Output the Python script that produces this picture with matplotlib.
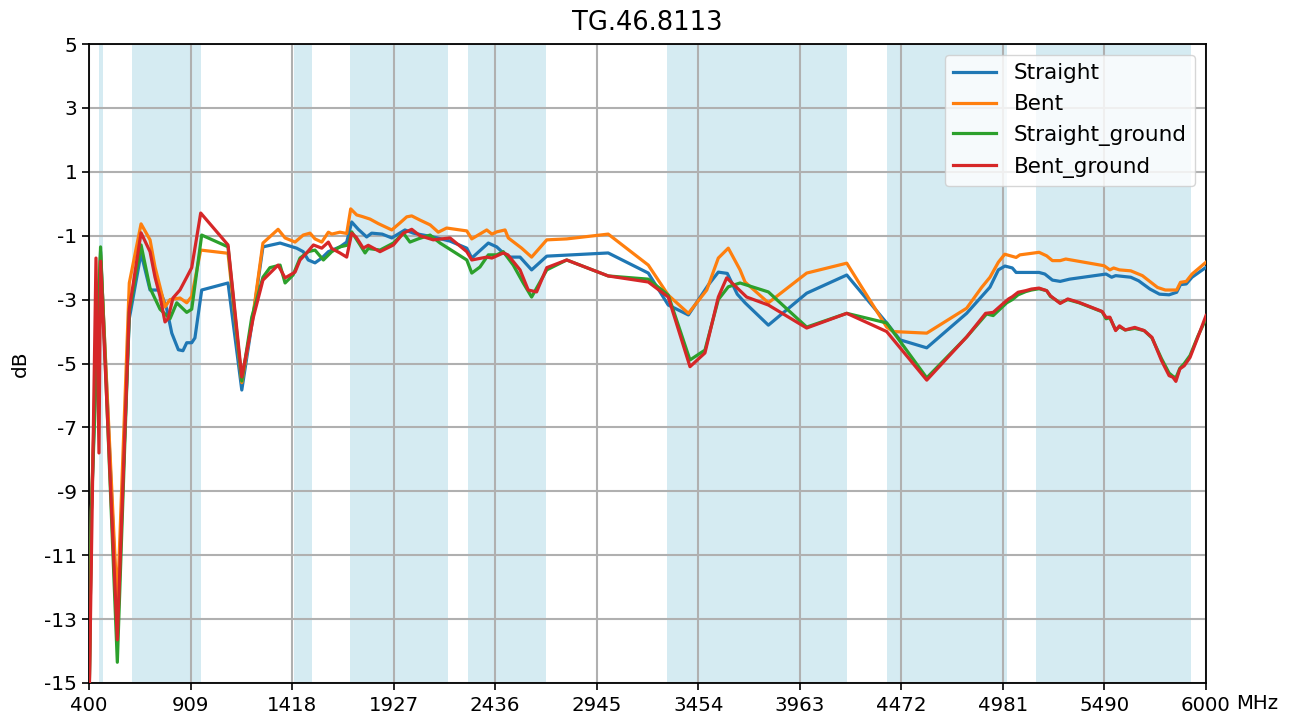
import numpy as np
import matplotlib
matplotlib.use("Agg")
import matplotlib.pyplot as plt

title = "TG.46.8113"
series_names = ["Straight", "Bent", "Straight_ground", "Bent_ground"]

# Straight
f_s = [400, 412, 435, 450, 458, 542, 602, 661, 706, 756, 790, 815, 848, 871, 890, 915, 931, 965,
       1097, 1166, 1222, 1272, 1358, 1441, 1474, 1499, 1533, 1567, 1600, 1658, 1692, 1717, 1750,
       1792, 1817, 1870, 1918, 1984, 2026, 2126, 2210, 2294, 2319, 2402, 2444, 2470, 2511, 2561,
       2619, 2695, 3003, 3204, 3304, 3405, 3505, 3555, 3600, 3650, 3689, 3806, 3998, 4199, 4399,
       4466, 4600, 4800, 4917, 4959, 4992, 5029, 5048, 5163, 5192, 5230, 5269, 5316, 5499, 5527,
       5547, 5623, 5662, 5719, 5767, 5815, 5853, 5872, 5901, 5930, 6000]
d_s = [-16, -9.6, -5.0, -3.0, -1.5, -13.1, -3.6, -1.55, -2.7, -2.7, -3.3, -4.05, -4.57, -4.6, -4.35, -4.35, -4.2, -2.7,
       -2.48, -5.83, -3.55, -1.35, -1.23, -1.39, -1.5, -1.76, -1.85, -1.7, -1.5, -1.35, -1.2, -0.57, -0.8,
       -1.04, -0.92, -0.95, -1.07, -0.82, -0.92, -1.04, -1.17, -1.39, -1.70, -1.23, -1.35, -1.5, -1.67, -1.67,
       -2.07, -1.64, -1.54, -2.17, -3.17, -3.48, -2.54, -2.14, -2.18, -2.83, -3.1, -3.8, -2.8, -2.23, -3.73,
       -4.26, -4.51, -3.43, -2.61, -2.07, -1.95, -2.01, -2.15, -2.15, -2.2, -2.39, -2.43, -2.36, -2.2, -2.3,
       -2.25, -2.3, -2.41, -2.67, -2.83, -2.85, -2.77, -2.53, -2.51, -2.3, -1.99]

# Bent
f_b = [400, 412, 435, 450, 458, 542, 602, 661, 706, 731, 756, 781, 806, 856, 890, 915, 960,
       1097, 1166, 1222, 1272, 1348, 1383, 1433, 1474, 1508, 1533, 1567, 1600, 1617, 1658, 1692,
       1712, 1742, 1770, 1809, 1850, 1918, 1959, 1993, 2018, 2059, 2110, 2151, 2193, 2294, 2319,
       2394, 2420, 2444, 2486, 2502, 2569, 2619, 2695, 2795, 3003, 3204, 3304, 3405, 3497, 3555,
       3605, 3664, 3689, 3806, 3998, 4199, 4399, 4432, 4600, 4800, 4875, 4917, 4959, 4991, 5048,
       5067, 5163, 5201, 5230, 5269, 5297, 5489, 5518, 5537, 5566, 5623, 5681, 5757, 5796, 5853,
       5872, 5901, 5930, 6000]
d_b = [-16, -9.6, -4.5, -2.8, -1.6, -12.6, -2.48, -0.63, -1.13, -1.98, -2.6, -3.23, -3.0, -2.95, -3.1, -2.9, -1.45,
       -1.55, -5.6, -3.5, -1.23, -0.8, -1.07, -1.2, -0.98, -0.92, -1.1, -1.2, -0.89, -0.95, -0.89, -0.93,
       -0.16, -0.35, -0.4, -0.48, -0.62, -0.82, -0.6, -0.41, -0.38, -0.51, -0.66, -0.89, -0.76, -0.85, -1.1,
       -0.82, -0.95, -0.88, -0.82, -1.07, -1.39, -1.67, -1.13, -1.1, -0.95, -1.92, -2.86, -3.43, -2.7, -1.7,
       -1.39, -2.07, -2.45, -3.1, -2.17, -1.86, -3.86, -4.0, -4.05, -3.27, -2.62, -2.3, -1.83, -1.58, -1.68,
       -1.6, -1.52, -1.63, -1.78, -1.78, -1.73, -1.94, -2.07, -2.01, -2.07, -2.1, -2.25, -2.62, -2.7, -2.7,
       -2.46, -2.43, -2.2, -1.83]

# Straight_ground
f_g = [400, 412, 458, 542, 602, 661, 706, 756, 806, 840, 890, 915, 965, 1097, 1166, 1216, 1272,
       1307, 1358, 1383, 1423, 1458, 1499, 1533, 1575, 1617, 1658, 1700, 1717, 1759, 1784, 1800,
       1859, 1926, 1976, 2009, 2050, 2110, 2160, 2294, 2319, 2360, 2402, 2444, 2477, 2527, 2577,
       2619, 2695, 2795, 3003, 3204, 3304, 3413, 3488, 3555, 3605, 3664, 3806, 3998, 4199, 4399,
       4600, 4800, 4900, 4933, 5001, 5029, 5058, 5096, 5125, 5163, 5201, 5220, 5269, 5307, 5364,
       5479, 5499, 5518, 5547, 5566, 5595, 5643, 5690, 5729, 5777, 5815, 5834, 5849, 5869, 5891,
       5920, 5959, 6000]
d_g = [-16, -9.6, -1.35, -14.35, -3.4, -1.29, -2.64, -3.3, -3.6, -3.1, -3.4, -3.3, -0.98, -1.35, -5.55, -3.55, -2.3,
       -2.0, -1.92, -2.48, -2.23, -1.7, -1.5, -1.45, -1.76, -1.5, -1.35, -1.29, -0.88, -1.29, -1.54, -1.4,
       -1.45, -1.23, -0.92, -1.2, -1.1, -0.98, -1.23, -1.76, -2.17, -1.98, -1.6, -1.6, -1.5, -1.92, -2.48,
       -2.92, -2.07, -1.76, -2.26, -2.36, -2.86, -4.89, -4.58, -3.0, -2.6, -2.48, -2.76, -3.86, -3.43, -3.73,
       -5.45, -4.17, -3.45, -3.5, -3.1, -3.0, -2.85, -2.75, -2.7, -2.66, -2.72, -2.9, -3.1, -3.0, -3.1,
       -3.38, -3.6, -3.57, -3.95, -3.85, -3.95, -3.9, -3.97, -4.2, -4.85, -5.3, -5.4, -5.45, -5.15, -5.0,
       -4.75, -4.15, -3.6]

# Bent_ground
f_r = [400, 435, 450, 458, 542, 602, 661, 706, 731, 756, 781, 796, 821, 856, 890, 915, 960, 1097,
       1166, 1224, 1272, 1348, 1383, 1433, 1458, 1491, 1525, 1567, 1600, 1617, 1658, 1692, 1717,
       1740, 1775, 1800, 1859, 1926, 1976, 2018, 2059, 2126, 2210, 2294, 2319, 2394, 2420, 2477,
       2500, 2561, 2602, 2644, 2695, 2795, 3003, 3204, 3304, 3413, 3488, 3555, 3597, 3697, 3806,
       3998, 4199, 4399, 4600, 4800, 4895, 4933, 4971, 5010, 5029, 5058, 5096, 5125, 5163, 5201,
       5220, 5269, 5307, 5364, 5479, 5499, 5518, 5547, 5566, 5595, 5643, 5690, 5729, 5777, 5815,
       5834, 5849, 5869, 5891, 5920, 5959, 6000]
d_r = [-16, -1.7, -7.8, -1.8, -13.65, -3.3, -0.91, -1.5, -2.3, -2.9, -3.7, -3.6, -2.95, -2.7, -2.3, -2.0, -0.29, -1.29,
       -5.42, -3.55, -2.39, -1.92, -2.32, -2.14, -1.76, -1.54, -1.29, -1.39, -1.2, -1.4, -1.54, -1.67, -0.92,
       -1.05, -1.39, -1.3, -1.5, -1.29, -0.92, -0.8, -1.0, -1.13, -1.07, -1.5, -1.76, -1.67, -1.7, -1.54,
       -1.6, -2.07, -2.7, -2.76, -2.0, -1.76, -2.26, -2.45, -2.92, -5.1, -4.67, -2.92, -2.32, -2.92, -3.17,
       -3.89, -3.43, -4.0, -5.52, -4.17, -3.43, -3.4, -3.19, -2.98, -2.91, -2.77, -2.72, -2.67, -2.64, -2.72,
       -2.88, -3.12, -2.98, -3.09, -3.37, -3.56, -3.55, -3.97, -3.82, -3.95, -3.87, -3.97, -4.18, -4.91, -5.38,
       -5.43, -5.56, -5.17, -5.07, -4.81, -4.18, -3.5]

band_starts = [452, 617, 1427, 1710, 2300, 3300, 4400, 5150]
band_ends = [470, 960, 1518, 2200, 2690, 4200, 5000, 5925]

x_tick_labels = ["400", "909", "1418", "1927", "2436", "2945", "3454", "3963", "4472", "4981", "5490", "6000"]
y_tick_values = [5, 3, 1, -1, -3, -5, -7, -9, -11, -13, -15]

colors = ["#1f77b4", "#ff7f0e", "#2ca02c", "#d62728"]

fig = plt.figure(figsize=(13.03, 7.22), dpi=100)
ax = fig.add_axes([89 / 1303, 1 - 683 / 722, (1206 - 89) / 1303, (683 - 44) / 722])

for s, e in zip(band_starts, band_ends):
    ax.axvspan(s, e, color="lightblue", alpha=0.5, lw=0, zorder=0.5)

for (fx, dy), name, c in zip([(f_s, d_s), (f_b, d_b), (f_g, d_g), (f_r, d_r)], series_names, colors):
    ax.plot(fx, dy, color=c, lw=2.3, label=name, zorder=3)

ax.set_xlim(400, 6000)
ax.set_ylim(-15, 5)
xt = np.linspace(400, 6000, len(x_tick_labels))
ax.set_xticks(xt)
ax.set_xticklabels(x_tick_labels, fontsize=14.2)
ax.set_yticks(y_tick_values)
ax.set_yticklabels([str(v) for v in y_tick_values], fontsize=14.5)
ax.tick_params(length=5, width=1.2)
ax.tick_params(axis="x", pad=4.5)
ax.grid(True, color="#b0b0b0", lw=1.5)
for sp in ax.spines.values():
    sp.set_linewidth(1.3)
    sp.set_color("black")

ax.set_title(title, fontsize=18.5, pad=10)
ax.set_ylabel("dB", fontsize=14.5, labelpad=10)
ax.annotate("MHz", xy=(1, 0), xycoords="axes fraction", xytext=(22, -8.1),
            textcoords="offset points", ha="left", va="top", fontsize=14.2)

ax.legend(loc="upper right", fontsize=15.5, handlelength=2.0)

fig.savefig("out.png", dpi=100)
